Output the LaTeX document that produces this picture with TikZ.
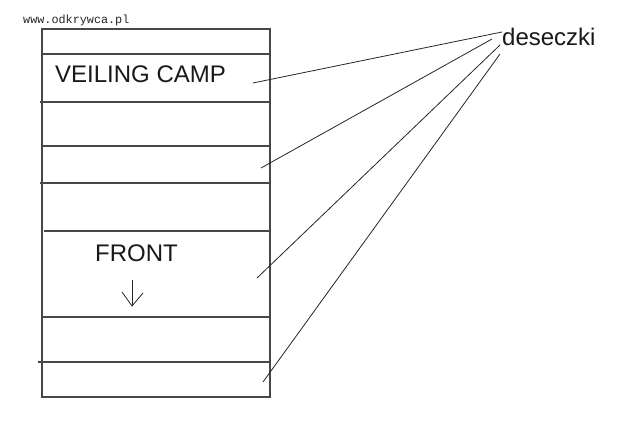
\documentclass[tikz,border=0pt]{standalone}
\usepackage{fontspec}
\setmainfont{Liberation Sans}
\newfontfamily\monofont{Liberation Mono}
\begin{document}
\begin{tikzpicture}[x=1pt,y=-1pt,
  boxline/.style={draw=black!72,line width=1.4pt},
  slatline/.style={draw=black!72,line width=1.4pt},
  leader/.style={draw=black!85,line width=0.8pt},
  bigtext/.style={inner sep=0pt,anchor=base west,font=\fontsize{24}{26}\selectfont,text=black!90},
  smalltext/.style={inner sep=0pt,anchor=base west,font=\monofont\fontsize{11.8}{13}\selectfont,text=black!85}]
\useasboundingbox[fill=white] (0,0) rectangle (640,435);
% plank stack
\draw[boxline] (42,29) rectangle (270,397);
\draw[slatline] (42,54) -- (270,54);
\draw[slatline] (40,102) -- (270,102);
\draw[slatline] (42,146) -- (270,146);
\draw[slatline] (40,183) -- (270,183);
\draw[slatline] (44,231) -- (271,231);
\draw[slatline] (41,317) -- (270,317);
\draw[slatline] (38,362) -- (270,362);
% texts
\node[smalltext] (www) at (23,24) {www.odkrywca.pl};
\node[bigtext] (veil) at (55,83) {VEILING CAMP};
\node[bigtext] (front) at (95,262) {FRONT};
\node[bigtext] (desk) at (502,46) {deseczki};
% front arrow
\coordinate (at) at (132,280);
\coordinate (ah) at (132,306);
\coordinate (al) at (122,292);
\coordinate (ar) at (143,293);
\draw[leader] (at) -- (ah);
\draw[leader] (al) -- (ah) -- (ar);
% leaders
\coordinate (d1) at (502,32);
\coordinate (d2) at (492,39);
\coordinate (d3) at (500,45);
\coordinate (d4) at (500,54);
\coordinate (e1) at (253,83);
\coordinate (e2) at (261,168);
\coordinate (e3) at (257,278);
\coordinate (e4) at (263,382);
\draw[leader] (d1) -- (e1);
\draw[leader] (d2) -- (e2);
\draw[leader] (d3) -- (e3);
\draw[leader] (d4) -- (e4);
\end{tikzpicture}
\end{document}
